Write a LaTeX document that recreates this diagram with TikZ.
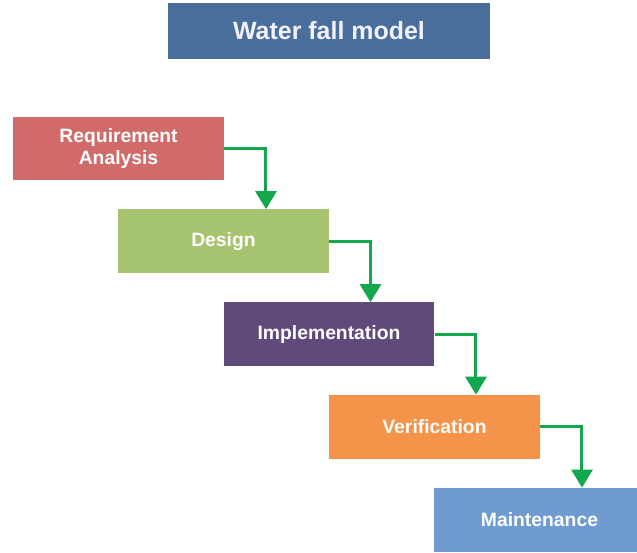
\documentclass[tikz,border=0pt]{standalone}
\usepackage{fontspec}
\setmainfont{Liberation Sans}
\usetikzlibrary{arrows.meta}
\definecolor{titleblue}{HTML}{4A6E9C}
\definecolor{reqred}{HTML}{D06B6A}
\definecolor{desgreen}{HTML}{A6C36F}
\definecolor{imppurple}{HTML}{5F4A7B}
\definecolor{verorange}{HTML}{F5934A}
\definecolor{mntblue}{HTML}{6F9BD0}
\definecolor{flowgreen}{HTML}{13A84E}

\begin{document}
\begin{tikzpicture}[x=0.02cm, y=-0.02cm]
 \useasboundingbox (0,0) rectangle (637,553);
 \begin{scope}[every node/.style={rectangle, text=white, font=\bfseries\fontsize{11}{13}\selectfont,
     align=center, minimum width=4.22cm, minimum height=1.28cm, inner sep=0pt}]
   \node (title) [fill=titleblue, minimum width=6.44cm, minimum height=1.12cm,
     font=\bfseries\fontsize{14.2}{16}\selectfont, text=white!95!blue] at (329,31) {Water fall model};
   \node (req) [fill=reqred, minimum height=1.26cm] at (118.5,148.5) {Requirement\\Analysis};
   \node (des) [fill=desgreen] at (223.5,241.5) {Design};
   \node (imp) [fill=imppurple] at (329,334.5) {Implementation};
   \node (ver) [fill=verorange] at (434.5,427) {Verification};
   \node (mnt) [fill=mntblue] at (539.5,520) {Maintenance};
 \end{scope}
 \begin{scope}[flowgreen, line width=1.7pt, -{Triangle[width=0.42cm,length=0.36cm]}]
   \draw (req.east) -| ([xshift=0.85cm]des.north);
   \draw (des.east) -| ([xshift=0.83cm]imp.north);
   \draw (imp.east) -| ([xshift=0.83cm]ver.north);
   \draw (ver.east) -| ([xshift=0.85cm]mnt.north);
 \end{scope}
\end{tikzpicture}
\end{document}
